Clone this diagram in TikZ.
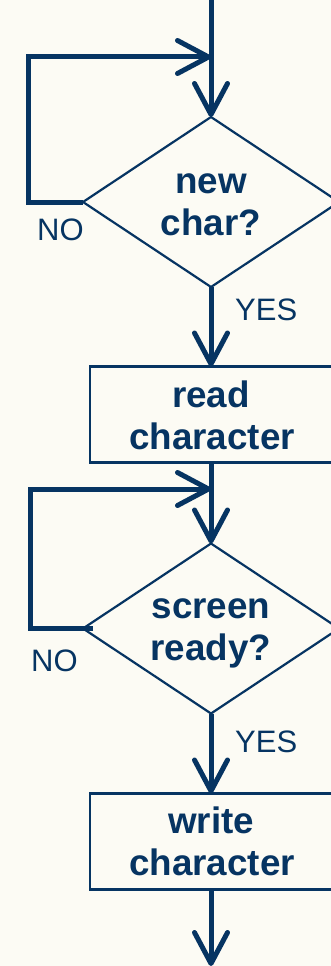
\documentclass[tikz,border=0pt]{standalone}
\usepackage{fontspec}
\setmainfont{Liberation Sans}
\usetikzlibrary{shapes.geometric,arrows.meta}
\definecolor{navy}{RGB}{6,52,98}
\definecolor{cream}{RGB}{252,251,244}
\begin{document}
\begin{tikzpicture}[x=1pt,y=-1pt,
  >={Straight Barb[length=31pt,width=33pt,round]},
  conn/.style={draw=navy,line width=5pt},
  dia/.style={diamond,draw=navy,line width=2.2pt,inner sep=0pt,outer sep=0pt,
    minimum width=256pt,minimum height=170pt},
  procbox/.style={rectangle,draw=navy,line width=2.4pt,inner sep=0pt,outer sep=0pt,
    minimum width=242pt,minimum height=96pt},
  bold/.style={text=navy,inner sep=0pt,anchor=base,font=\fontsize{36.8}{42}\selectfont\bfseries},
  lbl/.style={text=navy,inner sep=0pt,anchor=base west,font=\fontsize{31}{36}\selectfont}]
\useasboundingbox (0,0) rectangle (331,966);
\fill[cream] (0,0) rectangle (331,966);
\clip (0,0) rectangle (331,966);

% shapes
\node[dia] (d1) at (211,202) {};
\node[procbox] (b1) at (211,414.5) {};
\node[dia] (d2) at (211,628.5) {};
\node[procbox] (b2) at (211,841.5) {};

% texts
\node[bold] (t1a) at (211,193) {new};
\node[bold] (t1b) at (211,235) {char?};
\node[bold] (t2a) at (211,407) {read};
\node[bold] (t2b) at (212,449) {character};
\node[bold] (t3a) at (211,618) {screen};
\node[bold] (t3b) at (211,660) {ready?};
\node[bold] (t4a) at (211,833) {write};
\node[bold] (t4b) at (212,875) {character};

\node[lbl] (no1) at (37,240) {NO};
\node[lbl] (yes1) at (235,320) {YES};
\node[lbl] (no2) at (31,671) {NO};
\node[lbl] (yes2) at (235,752) {YES};

% coordinates
\coordinate (top) at (211,0);
\coordinate (j1) at (211,57);
\coordinate (l1) at (28,57);
\coordinate (j2) at (211,489);
\coordinate (l2) at (30,489);
\coordinate (bot) at (211,966);

% connectors
\draw[conn,->] (top) -- (d1.north);
\draw[conn,->] (d1.west) -| (l1) -- (j1);
\draw[conn,->] (d1.south) -- (b1.north);
\draw[conn,->] (b1.south) -- (d2.north);
\draw[conn,->] ([xshift=10pt]d2.west) -| (l2) -- (j2);
\draw[conn,->] (d2.south) -- (b2.north);
\draw[conn,->] (b2.south) -- (bot);
\end{tikzpicture}
\end{document}
